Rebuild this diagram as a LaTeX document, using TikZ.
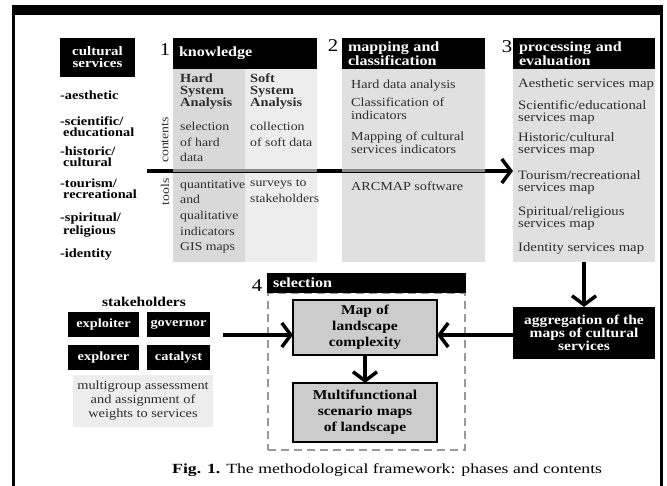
\documentclass[tikz,border=0pt]{standalone}
\usepackage{fontspec}
\usepackage{graphicx}
\setmainfont{Liberation Serif}[FakeStretch=1.15]
\usetikzlibrary{arrows.meta}
\newcommand\fsz[2]{\fontsize{#1}{#2}\selectfont}
\definecolor{txtgray}{gray}{0.18}
\begin{document}
\begin{tikzpicture}[x=1pt,y=-1pt,
  box/.style={anchor=north west,inner sep=0pt,outer sep=0pt},
  hdr/.style={box,fill=black,text=white,font=\bfseries\fsz{14}{14.5},inner xsep=6pt,align=left,minimum height=31pt},
  colbody/.style={box,minimum height=193pt},
  t/.style={anchor=north west,inner sep=0pt,align=left,text=txtgray,font=\fsz{12.3}{12.5}},
  tc/.style={t,font=\fsz{12.8}{12.5}},
  tw/.style={t,font=\fsz{12}{15.7}},
  tb/.style={t,font=\bfseries\fsz{12.5}{12}},
  li/.style={anchor=north west,inner sep=0pt,align=left,font=\bfseries\fsz{12.5}{11}},
  num/.style={inner sep=0pt,font=\fsz{18}{18}},
  sb/.style={box,fill=black,text=white,font=\bfseries\fsz{12.5}{13},minimum height=25pt},
  gbox/.style={box,fill=black!20,draw=black,line width=2pt,align=center,font=\bfseries\fsz{13.5}{16}},
  arr/.style={line width=3.5pt,-{Straight Barb[length=9pt,width=24pt,line width=3.5pt]}},
]
\useasboundingbox (0,0) rectangle (667,486);
% frame
\fill[black] (12,5) rectangle (663,15);
\fill[black] (12,5) rectangle (15,486);
\fill[black] (660,5) rectangle (663,486);

% cultural services
\node[box,fill=black,text=white,font=\bfseries\fsz{13}{12},align=center,minimum width=75pt,minimum height=39pt] (cs) at (60,38) {cultural\\services};
\node[li] (l1) at (60,91) {-aesthetic};
\node[li] (l2) at (60,117) {-scientific/\\\hspace*{3pt}educational};
\node[li] (l3) at (60,147) {-historic/\\\hspace*{3pt}cultural};
\node[li] (l4) at (60,179) {-tourism/\\\hspace*{3pt}recreational};
\node[li] (l5) at (60,213) {-spiritual/\\\hspace*{3pt}religious};
\node[li] (l6) at (60,249) {-identity};

% column bodies
\node[colbody,fill=black!15,minimum width=72pt] (c1h) at (173,69) {};
\node[colbody,fill=black!7,minimum width=72pt] (c1s) at (245,69) {};
\node[colbody,fill=black!12,minimum width=143pt] (c2) at (342,69) {};
\node[colbody,fill=black!12,minimum width=142pt] (c3) at (513,69) {};

% headers
\node[hdr,text width=132pt] (h1) at (173,38) {knowledge};
\node[hdr,text width=131pt] (h2) at (342,38) {mapping and\\classification};
\node[hdr,text width=130pt] (h3) at (513,38) {processing and\\evaluation};
\node[num] (n1) at (165,50) {1};
\node[num] (n2) at (333,46) {2};
\node[num] (n3) at (507,47) {3};

% main arrow
\coordinate (astart) at (147,171);
\draw[arr] (astart) -- (c3.west |- astart);
\draw[black!45,line width=3pt] (c1h.west |- astart) -- (c1s.east |- astart);
\draw[black!45,line width=3pt] (c2.west |- astart) -- (c2.east |- astart);

\node[rotate=90,inner sep=0pt,text=txtgray,font=\fsz{12}{12}] (lcont) at (165,140) {contents};
\node[rotate=90,inner sep=0pt,text=txtgray,font=\fsz{12}{12}] (ltools) at (165,192) {tools};

% column 1 texts
\node[tb] (k1) at (180,74) {Hard\\System\\Analysis};
\node[tb] (k2) at (250,74) {Soft\\System\\Analysis};
\node[tw] (k3) at (180,122) {selection\\of hard\\data};
\node[tw] (k4) at (250,122) {collection\\of soft data};
\node[tw] (k5) at (180,180) {quantitative\\and\\qualitative\\indicators\\GIS maps};
\node[tw] (k6) at (250,180) {surveys to\\stakeholders};

% column 2 texts
\node[t] (m1) at (351,80) {Hard data analysis};
\node[t] (m2) at (351,98) {Classification of\\indicators};
\node[t] (m3) at (351,132) {Mapping of cultural\\services indicators};
\node[t] (m4) at (351,182) {ARCMAP software};

% column 3 texts
\node[tc] (p1) at (518,78) {Aesthetic services map};
\node[tc] (p2) at (518,100) {Scientific/educational\\services map};
\node[tc] (p3) at (518,132) {Historic/cultural\\services map};
\node[tc] (p4) at (518,170) {Tourism/recreational\\services map};
\node[tc] (p5) at (518,206) {Spiritual/religious\\services map};
\node[tc] (p6) at (518,242) {Identity services map};

% selection
\node[box,draw=black!40,line width=1.5pt,dash pattern=on 8pt off 5pt,minimum width=197pt,minimum height=157pt] (selbox) at (268,293) {};
\node[hdr,minimum height=20pt,text width=187pt] (h4) at (267,273) {selection};
\node[num] (n4) at (257,286) {4};
\node[gbox,minimum width=144pt,minimum height=55pt] (map) at (293,300) {Map of\\landscape\\complexity};
\node[gbox,minimum width=144pt,minimum height=59pt] (multi) at (293,383) {Multifunctional\\scenario maps\\of landscape};
\draw[arr] (map.south) -- (multi.north);

% aggregation
\node[box,fill=black,text=white,align=center,font=\bfseries\fsz{13.5}{13},minimum width=142pt,minimum height=52pt] (agg) at (513,307) {aggregation of the\\maps of cultural\\services};
\draw[arr] (c3.south) -- (agg.north);
\coordinate (aggout) at (513,335);
\draw[arr] (aggout) -- (map.east |- aggout);

% stakeholders
\node[inner sep=0pt,font=\bfseries\fsz{13.5}{14}] (stk) at (144,302) {stakeholders};
\node[sb,minimum width=71pt] (s1) at (68,312) {exploiter};
\node[sb,minimum width=63pt] (s2) at (147,312) {governor};
\node[sb,minimum width=71pt] (s3) at (68,345) {explorer};
\node[sb,minimum width=63pt] (s4) at (147,345) {catalyst};
\node[box,fill=black!7,text=txtgray,align=center,font=\fsz{12.5}{14},minimum width=140pt,minimum height=52pt] (mg) at (73,375) {multigroup assessment\\and assignment of\\weights to services};
\coordinate (sout) at (223,335);
\draw[arr] (sout) -- (map.west |- sout);

% caption
\node[anchor=west,inner sep=0pt,font=\fsz{14}{14}] (cap) at (172,470) {\scalebox{1.1}[1]{\textbf{Fig. 1.} The methodological framework: phases and contents}};
\end{tikzpicture}
\end{document}
